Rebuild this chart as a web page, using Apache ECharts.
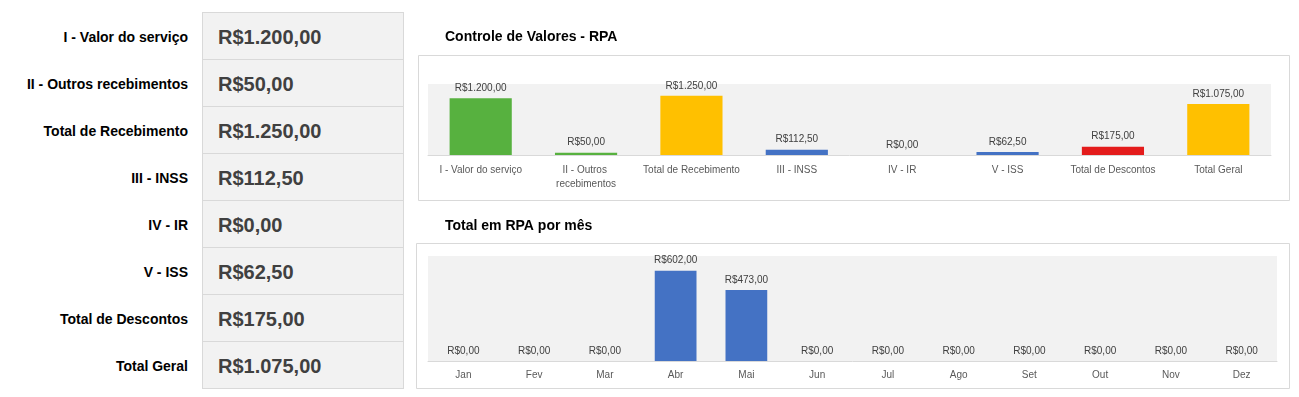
<!DOCTYPE html>
<html>
<head>
<meta charset="utf-8">
<script src="https://cdn.jsdelivr.net/npm/echarts@6/dist/echarts.min.js"></script>
<style>
    html, body { margin: 0; padding: 0; background: #fff; }
    #page { position: relative; width: 1299px; height: 397px; overflow: hidden; font-family: 'Liberation Sans', Arial, sans-serif; }
    .rotulo { position: absolute; left: 0; width: 188px; height: 47px; line-height: 50px; text-align: right;
              font-weight: bold; font-size: 14px; color: #000; white-space: nowrap; }
    .caixa { position: absolute; left: 202px; width: 185px; height: 46px; background: #f2f2f2;
             border: 1px solid #d9d9d9; line-height: 49px; padding-left: 15px;
             font-weight: bold; font-size: 20px; color: #404040; white-space: nowrap; overflow: hidden; }
    #graficos { position: absolute; left: 410px; top: 0; width: 889px; height: 397px; }
</style>
</head>
<body>
<div id="page">
    <div id="tabela"></div>
    <div id="graficos"></div>
</div>
<script>
// dados da planilha
var categorias = ['I - Valor do serviço', 'II - Outros recebimentos', 'Total de Recebimento', 'III - INSS',
                  'IV - IR', 'V - ISS', 'Total de Descontos', 'Total Geral'];
var valores = [1200, 50, 1250, 112.5, 0, 62.5, 175, 1075];
var meses = ['Jan', 'Fev', 'Mar', 'Abr', 'Mai', 'Jun', 'Jul', 'Ago', 'Set', 'Out', 'Nov', 'Dez'];
var totaisMes = [0, 0, 0, 602, 473, 0, 0, 0, 0, 0, 0, 0];

var coresBarras = ['#57b13f', '#57b13f', '#ffc000', '#4472c4', '#4472c4', '#4472c4', '#e41c1c', '#ffc000'];

// formata no padrao R$1.234,56
function reais(v) {
    var partes = Number(v).toFixed(2).split('.');
    var inteiro = partes[0].replace(/\B(?=(\d{3})+(?!\d))/g, '.');
    return 'R$' + inteiro + ',' + partes[1];
}

// tabela da esquerda
var tabela = document.getElementById('tabela');
for (var i = 0; i < categorias.length; i++) {
    var posY = 12 + i * 47;
    var r = document.createElement('div');
    r.className = 'rotulo';
    r.style.top = posY + 'px';
    r.textContent = categorias[i];
    tabela.appendChild(r);
    var c = document.createElement('div');
    c.className = 'caixa';
    c.style.top = posY + 'px';
    c.textContent = reais(valores[i]);
    tabela.appendChild(c);
}

var myChart = echarts.init(document.getElementById('graficos'));
var fonte = 'Liberation Sans';
option = {
    animation: false,
    textStyle: { fontFamily: fonte },
    title: [{
        text: 'Controle de Valores - RPA',
        left: 30, top: 25,
        textStyle: { fontSize: 14, fontWeight: 'bold', color: '#000', fontFamily: fonte }
    }, {
        text: 'Total em RPA por mês',
        left: 30, top: 214,
        textStyle: { fontSize: 14, fontWeight: 'bold', color: '#000', fontFamily: fonte }
    }],
    graphic: [{
        type: 'rect', silent: true, z: -10,
        shape: { x: 8.5, y: 55.5, width: 871, height: 145 },
        style: { fill: '#fff', stroke: '#d9d9d9', lineWidth: 1 }
    }, {
        type: 'rect', silent: true, z: -10,
        shape: { x: 6.5, y: 243.5, width: 873, height: 145 },
        style: { fill: '#fff', stroke: '#d9d9d9', lineWidth: 1 }
    }],
    grid: [{
        left: 18, right: 28, top: 84, height: 71,
        show: true, backgroundColor: '#f2f2f2', borderWidth: 0
    }, {
        left: 18, right: 22, top: 256, height: 105,
        show: true, backgroundColor: '#f2f2f2', borderWidth: 0
    }],
    xAxis: [{
        type: 'category', gridIndex: 0, data: categorias,
        axisLine: { lineStyle: { color: '#d9d9d9' } },
        axisTick: { show: false },
        axisLabel: {
            interval: 0, color: '#595959', fontSize: 10, margin: 8, lineHeight: 14,
            width: 100, overflow: 'break'
        }
    }, {
        type: 'category', gridIndex: 1, data: meses,
        axisLine: { lineStyle: { color: '#d9d9d9' } },
        axisTick: { show: false },
        axisLabel: { interval: 0, color: '#595959', fontSize: 10, margin: 9 }
    }],
    yAxis: [{
        type: 'value', gridIndex: 0, min: 0, max: 1500, show: false
    }, {
        type: 'value', gridIndex: 1, min: 0, max: 700, show: false
    }],
    series: [{
        type: 'bar', xAxisIndex: 0, yAxisIndex: 0,
        barWidth: '59%',
        data: valores.map(function (v, i) {
            return { value: v, itemStyle: { color: coresBarras[i] } };
        }),
        label: {
            show: true, position: 'top', distance: 5, fontSize: 10, color: '#404040',
            formatter: function (p) { return reais(p.value); }
        }
    }, {
        type: 'bar', xAxisIndex: 1, yAxisIndex: 1,
        barWidth: '59%',
        itemStyle: { color: '#4472c4' },
        data: totaisMes,
        label: {
            show: true, position: 'top', distance: 5, fontSize: 10, color: '#404040',
            formatter: function (p) { return reais(p.value); }
        }
    }]
};
myChart.setOption(option);
window.addEventListener("resize", function () {
    myChart.resize();
});
</script>
</body>
</html>
